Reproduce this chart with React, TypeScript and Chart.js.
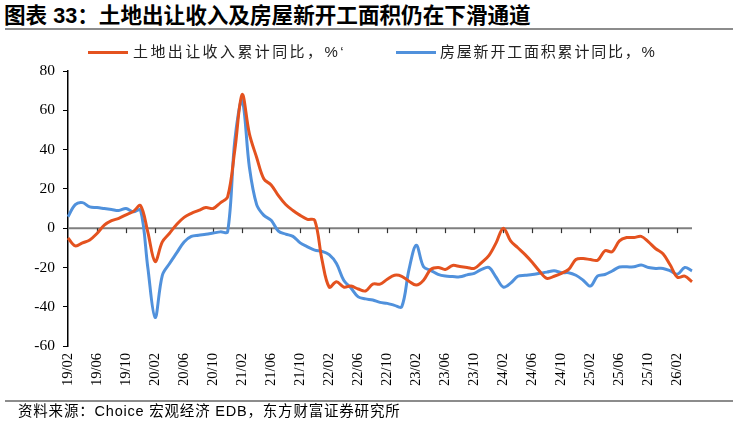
import React, { useEffect, useRef } from "react";
import { Chart, registerables } from "chart.js";

Chart.register(...registerables);

// Monthly categories 19/02 .. 26/04
const months: string[] = (() => {
  const out: string[] = [];
  let y = 19;
  let m = 2;
  while (!(y === 26 && m === 5)) {
    out.push(`${y}/${String(m).padStart(2, "0")}`);
    m++;
    if (m > 12) { m = 1; y++; }
  }
  return out;
})();

const landRevenue: number[] = [
  -5, -9, -7.5, -6, -2.7, 1.5, 3.8, 5, 6.8, 8.5,
  11.5, -2, -17, -7, -2.6, 2, 5.5, 7.5, 9, 10.5,
  10, 12.9, 15.9, 40, 68, 48, 36, 25, 22, 16.5,
  12, 9, 6.5, 4.5, 4, -16, -30, -27.3, -30, -29.5,
  -31, -32, -28.5, -28.5, -26, -24, -24.5, -27, -29, -26.5,
  -21, -20, -21, -19, -19.5, -20, -20.5, -17.5, -14, -7.5,
  0, -6.5, -10, -13.5, -17.5, -22, -25.6, -24.5, -23, -21,
  -16, -15.5, -16, -16.3, -11.5, -12, -6.5, -4.8, -4.8, -4.2,
  -7, -10.5, -13, -18.8, -25, -24.4, -27.3,
];

const newStarts: number[] = [
  5.8, 12, 13, 10.8, 10.5, 10, 9.5, 9, 10, 8.3,
  9.2, -20, -45.5, -24, -18, -12.5, -7, -4.2, -3.6, -3.1,
  -2.5, -1.9, -1.9, 45, 65, 31, 12, 6.5, 4, -1.5,
  -3, -4.2, -7.5, -9.5, -11.2, -11.8, -13.5, -18, -26.5, -30.5,
  -35, -36, -36.6, -37.8, -38.3, -39.3, -40, -21, -8.7, -19.7,
  -21.5, -23.5, -24.4, -24.6, -24.8, -23.8, -23, -21, -20, -25,
  -30, -28, -24.5, -24, -23.6, -23, -22.4, -21.7, -22.7, -22.7,
  -24, -26.5, -29.5, -24.3, -23.6, -21.8, -19.8, -19.7, -19.7, -18.8,
  -20, -20.5, -20.5, -21.7, -23.4, -20, -21.7,
];

const seriesNames = ["土地出让收入累计同比，%‘", "房屋新开工面积累计同比，%"];
const titleText = "图表 33：土地出让收入及房屋新开工面积仍在下滑通道";
const sourceText = "资料来源：Choice 宏观经济 EDB，东方财富证券研究所";

const ORANGE = "#E4521F";
const BLUE = "#5091DC";
const MIXED_FONT = "'Liberation Sans', 'Noto Sans CJK SC', sans-serif";

const zeroLinePlugin = {
  id: "zeroLine",
  beforeDatasetsDraw(chart: any) {
    const { ctx, chartArea, scales } = chart;
    const y0 = scales.y.getPixelForValue(0);
    ctx.save();
    ctx.strokeStyle = "#7f7f7f";
    ctx.lineWidth = 2;
    ctx.beginPath();
    ctx.moveTo(chartArea.left, y0);
    ctx.lineTo(chartArea.right, y0);
    ctx.stroke();
    ctx.strokeStyle = "#333";
    ctx.lineWidth = 1.2;
    for (let i = 4; i < months.length; i += 4) {
      const x = Math.round(scales.x.getPixelForValue(i)) + 0.5;
      ctx.beginPath();
      ctx.moveTo(x, y0);
      ctx.lineTo(x, y0 + 5);
      ctx.stroke();
    }
    ctx.restore();
  },
};

export default function App() {
  const ref = useRef<HTMLCanvasElement | null>(null);

  useEffect(() => {
    if (!ref.current) return;
    const chart = new Chart(ref.current, {
      type: "line",
      data: {
        labels: months,
        datasets: [
          {
            label: seriesNames[0],
            data: landRevenue,
            borderColor: ORANGE,
            backgroundColor: ORANGE,
            borderWidth: 3,
            pointRadius: 0,
            tension: 0.35,
          },
          {
            label: seriesNames[1],
            data: newStarts,
            borderColor: BLUE,
            backgroundColor: BLUE,
            borderWidth: 3,
            pointRadius: 0,
            tension: 0.35,
          },
        ],
      },
      options: {
        responsive: false,
        animation: false,
        devicePixelRatio: 1,
        layout: { padding: { left: 0, right: 45, top: 71, bottom: 26 } },
        plugins: {
          legend: { display: false },
          tooltip: { enabled: false },
        },
        scales: {
          x: {
            type: "category",
            offset: false,
            grid: { display: false, drawTicks: false },
            border: { display: false },
            ticks: {
              autoSkip: false,
              minRotation: 90,
              maxRotation: 90,
              padding: 7,
              color: "#000",
              font: { family: "Liberation Serif", size: 14.5 },
              callback: (_v: any, i: number) => (i % 4 === 0 ? months[i] : ""),
            },
            afterFit: (axis: any) => { axis.height = 50; },
          },
          y: {
            min: -60,
            max: 80,
            grid: {
              drawOnChartArea: false,
              drawTicks: true,
              tickLength: 5,
              color: "#000",
              lineWidth: 1,
            },
            border: { display: true, color: "#000", width: 1.5 },
            ticks: {
              stepSize: 20,
              padding: 8,
              color: "#000",
              font: { family: "Liberation Serif", size: 15.5 },
            },
            afterFit: (axis: any) => { axis.width = 68; },
          },
        },
      },
      plugins: [zeroLinePlugin],
    });
    return () => chart.destroy();
  }, []);

  const legendText: React.CSSProperties = {
    position: "absolute",
    top: 42,
    fontSize: 15,
    lineHeight: "20px",
    color: "#222",
    whiteSpace: "nowrap",
    fontFamily: MIXED_FONT,
  };

  return (
    <div
      style={{
        position: "fixed",
        left: 0,
        top: 0,
        width: 737,
        height: 422,
        background: "#fff",
        overflow: "hidden",
        fontFamily: "'Noto Sans CJK SC', sans-serif",
      }}
    >
      <div
        style={{
          position: "absolute",
          left: 4,
          top: 3,
          fontSize: 21.6,
          fontWeight: 700,
          color: "#000",
          whiteSpace: "nowrap",
          lineHeight: "26px",
          fontFamily: MIXED_FONT,
        }}
      >
        {titleText}
      </div>
      <div style={{ position: "absolute", left: 5, top: 28, width: 728, height: 2, background: "#8c8c8c" }} />
      <canvas ref={ref} width={737} height={422} style={{ position: "absolute", left: 0, top: 0 }} />
      <div style={{ position: "absolute", left: 88, top: 51, width: 40, height: 3, background: ORANGE }} />
      <div style={{ ...legendText, left: 133, letterSpacing: 2.4 }}>{seriesNames[0]}</div>
      <div style={{ position: "absolute", left: 396, top: 51, width: 40, height: 3, background: BLUE }} />
      <div style={{ ...legendText, left: 440, letterSpacing: 1.8 }}>{seriesNames[1]}</div>
      <div style={{ position: "absolute", left: 5, top: 400, width: 728, height: 2, background: "#8c8c8c" }} />
      <div
        style={{
          position: "absolute",
          left: 18,
          top: 402,
          fontSize: 14.5,
          lineHeight: "19px",
          letterSpacing: 0.8,
          color: "#000",
          whiteSpace: "nowrap",
          fontFamily: MIXED_FONT,
        }}
      >
        {sourceText}
      </div>
    </div>
  );
}
